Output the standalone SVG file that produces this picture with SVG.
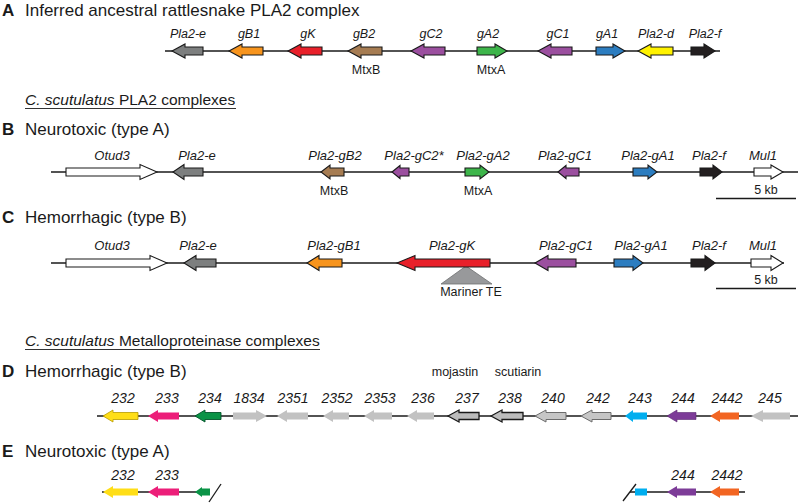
<svg xmlns="http://www.w3.org/2000/svg" width="800" height="503" viewBox="0 0 800 503">
<style>
text{font-family:"Liberation Sans",Arial,sans-serif;fill:#1a1a1a}
.hd{font-size:17px}
.ht{font-size:15.5px}
.hl{font-size:17px;font-weight:bold}
.ga{font-size:12.5px;font-style:italic;text-anchor:middle}
.gb{font-size:13px;font-style:italic;text-anchor:middle}
.gd{font-size:14px;font-style:italic;text-anchor:middle}
.nt{font-size:12.5px;text-anchor:middle}
.bb{stroke:#1a1a1a;stroke-width:1.3;fill:none}
.ol{stroke:#1a1a1a;stroke-width:1.1;stroke-linejoin:miter}
.ul{stroke:#333;stroke-width:1}
</style>
<rect width="800" height="503" fill="#fff"/>

<!-- headers -->
<text class="hl" x="2" y="16">A</text>
<text class="hd" x="25" y="16">Inferred ancestral rattlesnake PLA2 complex</text>
<text class="ht" x="25" y="105"><tspan font-style="italic">C. scutulatus</tspan> PLA2 complexes</text>
<line class="ul" x1="25" y1="108.5" x2="236" y2="108.5"/>
<text class="hl" x="2" y="135">B</text>
<text class="hd" x="25" y="135">Neurotoxic (type A)</text>
<text class="hl" x="2" y="223">C</text>
<text class="hd" x="25" y="223">Hemorrhagic (type B)</text>
<text class="ht" x="25" y="346"><tspan font-style="italic">C. scutulatus</tspan> Metalloproteinase complexes</text>
<line class="ul" x1="25" y1="349.5" x2="320" y2="349.5"/>
<text class="hl" x="2" y="377">D</text>
<text class="hd" x="25" y="377">Hemorrhagic (type B)</text>
<text class="hl" x="2" y="457">E</text>
<text class="hd" x="25" y="457">Neurotoxic (type A)</text>

<!-- connectors: backbone lines -->
<g id="connectors">
<line class="bb" x1="165" y1="51" x2="720" y2="51"/>
<line class="bb" x1="51" y1="172" x2="798" y2="172"/>
<line class="bb" x1="51" y1="263" x2="784" y2="263"/>
<line class="bb" x1="97" y1="416" x2="798" y2="416"/>
<line class="bb" x1="102" y1="492" x2="208" y2="492"/>
<line class="bb" x1="209" y1="502" x2="221" y2="484"/>
<line class="bb" x1="630" y1="492" x2="745" y2="492"/>
<line class="bb" x1="623" y1="501" x2="636" y2="484"/>
</g>

<!-- Section A -->
<g id="secA">
<g id="A-Pla2-e"><path class="ol" fill="#7d7f7f" transform="translate(0,51)" d="M172 0L185 -7L185 -4L203 -4L203 4L185 4L185 7Z"/><text class="ga" x="188" y="38">Pla2-e</text></g>
<g id="A-gB1"><path class="ol" fill="#f7941d" transform="translate(0,51)" d="M229 0L242 -7L242 -4L263 -4L263 4L242 4L242 7Z"/><text class="ga" x="249" y="38">gB1</text></g>
<g id="A-gK"><path class="ol" fill="#e8202a" transform="translate(0,51)" d="M288 0L301 -7L301 -4L322 -4L322 4L301 4L301 7Z"/><text class="ga" x="308" y="38">gK</text></g>
<g id="A-gB2"><path class="ol" fill="#a67c52" transform="translate(0,51)" d="M348 0L361 -7L361 -4L382 -4L382 4L361 4L361 7Z"/><text class="ga" x="364" y="38">gB2</text><text class="nt" x="366" y="74">MtxB</text></g>
<g id="A-gC2"><path class="ol" fill="#9b4f9f" transform="translate(0,51)" d="M411 0L424 -7L424 -4L445 -4L445 4L424 4L424 7Z"/><text class="ga" x="431" y="38">gC2</text></g>
<g id="A-gA2"><path class="ol" fill="#3db54a" transform="translate(0,51)" d="M507 0L495 -7L495 -4L477 -4L477 4L495 4L495 7Z"/><text class="ga" x="488" y="38">gA2</text><text class="nt" x="491" y="74">MtxA</text></g>
<g id="A-gC1"><path class="ol" fill="#9b4f9f" transform="translate(0,51)" d="M538 0L551 -7L551 -4L572 -4L572 4L551 4L551 7Z"/><text class="ga" x="558" y="38">gC1</text></g>
<g id="A-gA1"><path class="ol" fill="#2c7dc0" transform="translate(0,51)" d="M625 0L613 -7L613 -4L596 -4L596 4L613 4L613 7Z"/><text class="ga" x="607" y="38">gA1</text></g>
<g id="A-Pla2-d"><path class="ol" fill="#fff200" transform="translate(0,51)" d="M638 0L651 -7L651 -4L673 -4L673 4L651 4L651 7Z"/><text class="ga" x="656" y="38">Pla2-d</text></g>
<g id="A-Pla2-f"><path class="ol" fill="#231f20" transform="translate(0,51)" d="M715 0L704 -7L704 -4L691 -4L691 4L704 4L704 7Z"/><text class="ga" x="705" y="38">Pla2-f</text></g>
</g>

<!-- Section B -->
<g id="secB">
<g id="B-Otud3"><path class="ol" fill="#fff" transform="translate(0,172)" d="M157 0L140 -7.5L140 -4L66 -4L66 4L140 4L140 7.5Z"/><text class="gb" x="112" y="160">Otud3</text></g>
<g id="B-Pla2-e"><path class="ol" fill="#7d7f7f" transform="translate(0,172)" d="M173 0L184 -7.5L184 -4L203 -4L203 4L184 4L184 7.5Z"/><text class="gb" x="197" y="160">Pla2-e</text></g>
<g id="B-Pla2-gB2"><path class="ol" fill="#a67c52" transform="translate(0,172)" d="M321 0L330 -7L330 -4L344 -4L344 4L330 4L330 7Z"/><text class="gb" x="335" y="160">Pla2-gB2</text><text class="nt" x="334" y="195">MtxB</text></g>
<g id="B-Pla2-gC2"><path class="ol" fill="#9b4f9f" transform="translate(0,172)" d="M392 0L400 -6.5L400 -4L409 -4L409 4L400 4L400 6.5Z"/><text class="gb" x="414" y="160">Pla2-gC2*</text></g>
<g id="B-Pla2-gA2"><path class="ol" fill="#3db54a" transform="translate(0,172)" d="M489 0L480 -7L480 -4L465 -4L465 4L480 4L480 7Z"/><text class="gb" x="483" y="160">Pla2-gA2</text><text class="nt" x="478" y="195">MtxA</text></g>
<g id="B-Pla2-gC1"><path class="ol" fill="#9b4f9f" transform="translate(0,172)" d="M558 0L566 -6.5L566 -4L579 -4L579 4L566 4L566 6.5Z"/><text class="gb" x="565" y="160">Pla2-gC1</text></g>
<g id="B-Pla2-gA1"><path class="ol" fill="#2c7dc0" transform="translate(0,172)" d="M657 0L648 -7L648 -4L633 -4L633 4L648 4L648 7Z"/><text class="gb" x="648" y="160">Pla2-gA1</text></g>
<g id="B-Pla2-f"><path class="ol" fill="#231f20" transform="translate(0,172)" d="M722 0L713 -7L713 -4L700 -4L700 4L713 4L713 7Z"/><text class="gb" x="709" y="160">Pla2-f</text></g>
<g id="B-Mul1"><path class="ol" fill="#fff" transform="translate(0,172)" d="M783 0L771 -7L771 -4L754 -4L754 4L771 4L771 7Z"/><text class="gb" x="763" y="160">Mul1</text></g>
<g id="B-scale"><text class="nt" x="766" y="194">5 kb</text><line class="bb" x1="716" y1="198.5" x2="796" y2="198.5"/></g>
</g>

<!-- Section C -->
<g id="secC">
<g id="C-Mariner"><path fill="#98999b" stroke="#6d6e70" stroke-width="0.8" d="M441 284L492 284L466 266Z"/><text class="nt" x="471" y="296" font-size="13px">Mariner TE</text></g>
<g id="C-Otud3"><path class="ol" fill="#fff" transform="translate(0,263)" d="M167 0L150 -7.5L150 -4L66 -4L66 4L150 4L150 7.5Z"/><text class="gb" x="112" y="250">Otud3</text></g>
<g id="C-Pla2-e"><path class="ol" fill="#7d7f7f" transform="translate(0,263)" d="M184 0L196 -7.5L196 -4L216 -4L216 4L196 4L196 7.5Z"/><text class="gb" x="198" y="250">Pla2-e</text></g>
<g id="C-Pla2-gB1"><path class="ol" fill="#f7941d" transform="translate(0,263)" d="M307 0L319 -7.5L319 -4L342 -4L342 4L319 4L319 7.5Z"/><text class="gb" x="334" y="250">Pla2-gB1</text></g>
<g id="C-Pla2-gK"><path class="ol" fill="#e8202a" transform="translate(0,263)" d="M397 0L415 -7.5L415 -4L490 -4L490 4L415 4L415 7.5Z"/><text class="gb" x="452" y="250">Pla2-gK</text></g>
<g id="C-Pla2-gC1"><path class="ol" fill="#9b4f9f" transform="translate(0,263)" d="M535 0L548 -7.5L548 -4L576 -4L576 4L548 4L548 7.5Z"/><text class="gb" x="566" y="250">Pla2-gC1</text></g>
<g id="C-Pla2-gA1"><path class="ol" fill="#2c7dc0" transform="translate(0,263)" d="M643 0L633 -7.5L633 -4L614 -4L614 4L633 4L633 7.5Z"/><text class="gb" x="641" y="250">Pla2-gA1</text></g>
<g id="C-Pla2-f"><path class="ol" fill="#231f20" transform="translate(0,263)" d="M715 0L705 -7.5L705 -4L691 -4L691 4L705 4L705 7.5Z"/><text class="gb" x="709" y="250">Pla2-f</text></g>
<g id="C-Mul1"><path class="ol" fill="#fff" transform="translate(0,263)" d="M783 0L771 -7.5L771 -4L751 -4L751 4L771 4L771 7.5Z"/><text class="gb" x="763" y="250">Mul1</text></g>
<g id="C-scale"><text class="nt" x="766" y="284">5 kb</text><line class="bb" x1="716" y1="288.5" x2="796" y2="288.5"/></g>
</g>

<!-- Section D -->
<g id="secD">
<text class="nt" x="455" y="376" font-size="13.5px">mojastin</text>
<text class="nt" x="518" y="376" font-size="13.5px">scutiarin</text>
<g id="D-232"><path fill="#ffde17" stroke="#b89a00" stroke-width="0.8" transform="translate(0,416)" d="M103 0L113 -6L113 -3.5L138 -3.5L138 3.5L113 3.5L113 6Z"/><text class="gd" x="123" y="403">232</text></g>
<g id="D-233"><path fill="#ec1e79" transform="translate(0,416)" d="M148 0L158 -6L158 -3.5L179 -3.5L179 3.5L158 3.5L158 6Z"/><text class="gd" x="167" y="403">233</text></g>
<g id="D-234"><path fill="#0a9346" stroke="#05532a" stroke-width="0.9" transform="translate(0,416)" d="M195 0L205 -6L205 -3.5L221 -3.5L221 3.5L205 3.5L205 6Z"/><text class="gd" x="210" y="403">234</text></g>
<g id="D-1834"><path fill="#c2c2c2" transform="translate(0,416)" d="M267 0L256 -6L256 -3.5L233 -3.5L233 3.5L256 3.5L256 6Z"/><text class="gd" x="249" y="403">1834</text></g>
<g id="D-2351"><path fill="#c2c2c2" transform="translate(0,416)" d="M277 0L287 -6L287 -3.5L308 -3.5L308 3.5L287 3.5L287 6Z"/><text class="gd" x="293" y="403">2351</text></g>
<g id="D-2352"><path fill="#c2c2c2" transform="translate(0,416)" d="M323 0L333 -6L333 -3.5L349 -3.5L349 3.5L333 3.5L333 6Z"/><text class="gd" x="337" y="403">2352</text></g>
<g id="D-2353"><path fill="#c2c2c2" transform="translate(0,416)" d="M364 0L374 -6L374 -3.5L392 -3.5L392 3.5L374 3.5L374 6Z"/><text class="gd" x="380" y="403">2353</text></g>
<g id="D-236"><path fill="#c2c2c2" transform="translate(0,416)" d="M407 0L417 -6L417 -3.5L434 -3.5L434 3.5L417 3.5L417 6Z"/><text class="gd" x="423" y="403">236</text></g>
<g id="D-237"><path fill="#bcbcbc" stroke="#1a1a1a" stroke-width="1.3" transform="translate(0,416)" d="M448 0L459 -6L459 -3.5L479 -3.5L479 3.5L459 3.5L459 6Z"/><text class="gd" x="467" y="403">237</text></g>
<g id="D-238"><path fill="#bcbcbc" stroke="#1a1a1a" stroke-width="1.3" transform="translate(0,416)" d="M491 0L502 -6L502 -3.5L523 -3.5L523 3.5L502 3.5L502 6Z"/><text class="gd" x="510" y="403">238</text></g>
<g id="D-240"><path fill="#c6c6c6" stroke="#6d6d6d" stroke-width="1" transform="translate(0,416)" d="M535 0L546 -6L546 -3.5L566 -3.5L566 3.5L546 3.5L546 6Z"/><text class="gd" x="553" y="403">240</text></g>
<g id="D-242"><path fill="#c6c6c6" stroke="#6d6d6d" stroke-width="1" transform="translate(0,416)" d="M581 0L592 -6L592 -3.5L611 -3.5L611 3.5L592 3.5L592 6Z"/><text class="gd" x="598" y="403">242</text></g>
<g id="D-243"><path fill="#00aeef" transform="translate(0,416)" d="M625 0L633 -6L633 -3.5L647 -3.5L647 3.5L633 3.5L633 6Z"/><text class="gd" x="640" y="403">243</text></g>
<g id="D-244"><path fill="#7d3c98" stroke="#5a2a70" stroke-width="0.6" transform="translate(0,416)" d="M667 0L677 -6L677 -3.5L696 -3.5L696 3.5L677 3.5L677 6Z"/><text class="gd" x="683" y="403">244</text></g>
<g id="D-2442"><path fill="#f26522" transform="translate(0,416)" d="M710 0L720 -6L720 -3.5L739 -3.5L739 3.5L720 3.5L720 6Z"/><text class="gd" x="727" y="403">2442</text></g>
<g id="D-245"><path fill="#c2c2c2" transform="translate(0,416)" d="M751 0L763 -6L763 -3.5L790 -3.5L790 3.5L763 3.5L763 6Z"/><text class="gd" x="770" y="403">245</text></g>
</g>

<!-- Section E -->
<g id="secE">
<g id="E-232"><path fill="#ffde17" transform="translate(0,492)" d="M103 0L113 -6L113 -3.5L138 -3.5L138 3.5L113 3.5L113 6Z"/><text class="gd" x="123" y="480">232</text></g>
<g id="E-233"><path fill="#ec1e79" transform="translate(0,492)" d="M148 0L158 -6L158 -3.5L179 -3.5L179 3.5L158 3.5L158 6Z"/><text class="gd" x="167" y="480">233</text></g>
<g id="E-234"><path fill="#0a9346" transform="translate(0,492)" d="M195 0L202 -5L202 -3.5L210 -3.5L210 3.5L202 3.5L202 5Z"/></g>
<g id="E-243"><rect fill="#00aeef" x="635" y="488.5" width="12" height="7"/></g>
<g id="E-244"><path fill="#7d3c98" transform="translate(0,492)" d="M667 0L677 -6L677 -3.5L696 -3.5L696 3.5L677 3.5L677 6Z"/><text class="gd" x="683" y="480">244</text></g>
<g id="E-2442"><path fill="#f26522" transform="translate(0,492)" d="M710 0L720 -6L720 -3.5L739 -3.5L739 3.5L720 3.5L720 6Z"/><text class="gd" x="727" y="480">2442</text></g>
</g>
</svg>
